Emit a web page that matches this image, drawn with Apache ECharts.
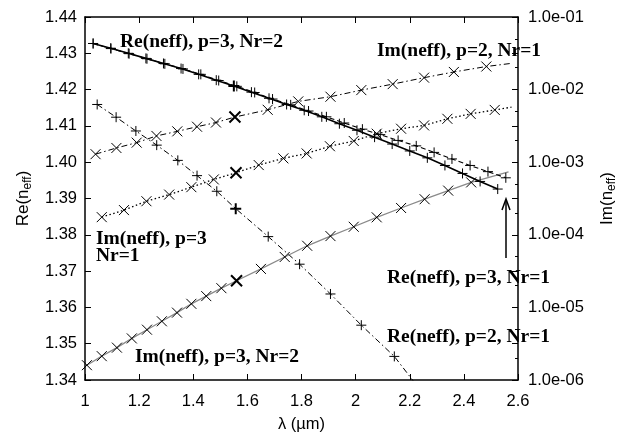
<!DOCTYPE html>
<html><head><meta charset="utf-8">
<script src="https://cdn.jsdelivr.net/npm/echarts@6/dist/echarts.min.js"></script>
<style>html,body{margin:0;padding:0;background:#fff}#c{width:626px;height:438px}</style>
</head><body><div id="c"></div>
<script>
// ---- axis definitions ----
const xMin = 1, xMax = 2.6, xStep = 0.2;
const reMin = 1.34, reMax = 1.44, reStep = 0.01;
const imMin = 1e-6, imMax = 1e-1;
const imMinorTicks = [2e-6,5e-6,2e-5,5e-5,2e-4,5e-4,2e-3,5e-3,2e-2,5e-2];
const boldLambda = 1.55;

// ---- Re(neff), p=3, Nr=2 (solid, +) ----
const lamReP3N2 = [1.03,1.095,1.16,1.225,1.29,1.355,1.42,1.485,1.55,1.615,1.68,1.745,1.81,1.875,1.94,2.005,2.07,2.135,2.2,2.265,2.33,2.395,2.46,2.525];
const reP3N2 = [1.4327,1.4314,1.4300,1.4286,1.4272,1.4258,1.4242,1.4226,1.4210,1.4193,1.4176,1.4159,1.4143,1.4125,1.4106,1.4088,1.4069,1.4050,1.4031,1.4012,1.3991,1.3969,1.3947,1.3926];

// ---- Re(neff), p=3, Nr=1 (dashed, +) ----
const lamReP3N1 = [1.03,1.096,1.163,1.229,1.295,1.362,1.428,1.494,1.561,1.627,1.693,1.76,1.826,1.892,1.958,2.025,2.091,2.157,2.224,2.29,2.356,2.423,2.489,2.555];
const reP3N1 = [1.4327,1.4313,1.4299,1.4285,1.4271,1.4257,1.4242,1.4225,1.4209,1.4192,1.4174,1.4158,1.4141,1.4125,1.4108,1.4091,1.4076,1.4060,1.4045,1.4027,1.4009,1.3991,1.3974,1.3957];

// ---- Re(neff), p=2, Nr=1 (dash-dot, +) ----
const lamReP2N1 = [1.045,1.115,1.188,1.265,1.343,1.414,1.487,1.557,1.677,1.793,1.907,2.021,2.143,2.26];
const reP2N1 = [1.4159,1.4124,1.4086,1.4047,1.4005,1.3963,1.3920,1.3872,1.3795,1.3719,1.3637,1.3551,1.3465,1.3352];

// ---- Im(neff), p=2, Nr=1 (dash-dot, x) ----
const lamImP2N1 = [1.039,1.116,1.191,1.264,1.341,1.414,1.484,1.554,1.675,1.788,1.907,2.021,2.137,2.253,2.363,2.483,2.576];
const imP2N1 = [1.29e-3,1.57e-3,1.86e-3,2.30e-3,2.66e-3,3.08e-3,3.52e-3,4.19e-3,5.27e-3,6.88e-3,7.98e-3,9.84e-3,1.19e-2,1.46e-2,1.75e-2,2.08e-2,2.30e-2];

// ---- Im(neff), p=3, Nr=1 (dotted, x) ----
const lamImP3N1 = [1.062,1.144,1.227,1.311,1.393,1.476,1.558,1.642,1.733,1.819,1.905,1.993,2.078,2.168,2.253,2.339,2.425,2.514,2.576];
const imP3N1 = [1.75e-4,2.19e-4,2.90e-4,3.58e-4,4.53e-4,5.79e-4,7.15e-4,9.13e-4,1.13e-3,1.32e-3,1.66e-3,1.96e-3,2.47e-3,2.89e-3,3.21e-3,3.96e-3,4.63e-3,5.25e-3,5.73e-3];

// ---- Im(neff), p=3, Nr=2 (grey, x) ----
const lamImP3N2 = [1.007,1.062,1.118,1.173,1.229,1.284,1.340,1.393,1.448,1.504,1.560,1.650,1.738,1.821,1.907,1.993,2.078,2.168,2.255,2.342,2.427,2.565];
const imP3N2 = [1.60e-6,2.13e-6,2.79e-6,3.74e-6,4.93e-6,6.44e-6,8.47e-6,1.12e-5,1.43e-5,1.84e-5,2.33e-5,3.39e-5,4.95e-5,7.06e-5,9.60e-5,1.29e-4,1.74e-4,2.34e-4,3.09e-4,4.06e-4,5.27e-4,7.33e-4];

// ---- annotation texts ----
const notes = [
  {text:'Re(neff), p=3, Nr=2', x:120, y:42},
  {text:'Im(neff), p=2, Nr=1', x:377, y:51},
  {text:'Im(neff), p=3', x:96, y:239},
  {text:'Nr=1', x:96, y:256},
  {text:'Im(neff), p=3, Nr=2', x:135, y:357},
  {text:'Re(neff), p=3, Nr=1', x:387, y:278},
  {text:'Re(neff), p=2, Nr=1', x:387, y:337}
];

const PLUS = 'path://M0,5L10,5M5,0L5,10';
const CROSS = 'path://M0,0L10,10M0,10L10,0';
const SANS = '"Liberation Sans", Arial, Helvetica, sans-serif';
const SERIF = '"Liberation Serif", "Times New Roman", serif';

function build(xs, ys, lastNoMarker) {
  return xs.map((x, i) => {
    const item = {value: [x, ys[i]]};
    if (lastNoMarker && i === xs.length - 1) item.symbol = 'none';
    if (Math.abs(x - boldLambda) < 0.0105) {
      item.symbolSize = 11;
      item.itemStyle = {borderWidth: 2, borderColor: '#000'};
    }
    return item;
  });
}

function mk(xs, ys, yIdx, sym, lineStyle, lastNoMarker, z) {
  return {
    type: 'line', xAxisIndex: 0, yAxisIndex: yIdx,
    data: build(xs, ys, lastNoMarker),
    symbol: sym, symbolSize: 10,
    lineStyle: lineStyle,
    itemStyle: {color: '#000', borderColor: '#000', borderWidth: 1},
    emphasis: {disabled: true},
    clip: true, z: z || 2
  };
}

const chart = echarts.init(document.getElementById('c'), null, {renderer: 'canvas'});
const tickStyle = {color: '#000', width: 1};
const nameRich = {
  a: {color: '#000', fontFamily: SANS, fontSize: 17, lineHeight: 19, verticalAlign: 'top'},
  b: {color: '#000', fontFamily: SANS, fontSize: 12, lineHeight: 14, padding: [10,0,0,0], verticalAlign: 'bottom'}
};
const option = {
  animation: false,
  backgroundColor: '#fff',
  grid: {left: 85, right: 104, top: 17, bottom: 54},
  xAxis: [
    {type: 'value', min: xMin, max: xMax, interval: xStep, position: 'bottom',
     axisLine: {lineStyle: {color: '#000', width: 1.5}},
     axisTick: {inside: true, length: 6, lineStyle: tickStyle},
     axisLabel: {color: '#000', fontFamily: SANS, fontSize: 16.5, margin: 13},
     splitLine: {show: false},
     name: 'λ (µm)', nameLocation: 'middle', nameGap: 36,
     nameTextStyle: {color: '#000', fontFamily: SANS, fontSize: 16.5}},
    {type: 'value', min: xMin, max: xMax, interval: xStep, position: 'top',
     axisLine: {lineStyle: {color: '#000', width: 1.5}},
     axisTick: {inside: true, length: 6, lineStyle: tickStyle},
     axisLabel: {show: false}, splitLine: {show: false}}
  ],
  yAxis: [
    {type: 'value', min: reMin, max: reMax, interval: reStep, position: 'left',
     axisLine: {show: true, lineStyle: {color: '#000', width: 1.5}},
     axisTick: {show: true, inside: true, length: 6, lineStyle: tickStyle},
     axisLabel: {color: '#000', fontFamily: SANS, fontSize: 16.5, margin: 8,
                 formatter: v => v.toFixed(2)},
     splitLine: {show: false},
     name: '{a|Re(n}{b|eff}{a|)}', nameLocation: 'middle', nameGap: 49, nameRotate: 90,
     nameTextStyle: {rich: nameRich}},
    {type: 'log', logBase: 10, min: imMin, max: imMax, position: 'right',
     axisLine: {show: true, lineStyle: {color: '#000', width: 1.5}},
     axisTick: {show: true, inside: true, length: 6, lineStyle: tickStyle},
     axisLabel: {color: '#000', fontFamily: SANS, fontSize: 16.5, margin: 10,
                 formatter: v => Number(v).toExponential(1).replace(/e([+-])(\d)$/, 'e$10$2')},
     splitLine: {show: false},
     name: '{a|Im(n}{b|eff}{a|)}', nameLocation: 'middle', nameGap: 81, nameRotate: 90,
     nameTextStyle: {rich: nameRich}},
    {type: 'value', min: reMin, max: reMax, interval: reStep, position: 'right',
     axisLine: {show: false},
     axisTick: {show: true, inside: true, length: 6, lineStyle: tickStyle},
     axisLabel: {show: false}, splitLine: {show: false}},
    {type: 'log', logBase: 10, min: imMin, max: imMax, position: 'right',
     axisLine: {show: false},
     axisTick: {show: true, inside: true, length: 3, lineStyle: tickStyle, customValues: imMinorTicks},
     axisLabel: {show: false}, splitLine: {show: false}}
  ],
  series: [
    mk(lamReP3N2, reP3N2, 0, PLUS, {color: '#000', width: 1.6, type: 'solid'}, false, 4),
    mk(lamReP3N1, reP3N1, 0, PLUS, {color: '#000', width: 1.1, type: [5, 3]}, false, 3),
    mk(lamReP2N1, reP2N1, 0, PLUS, {color: '#000', width: 1, type: [6, 3, 1.5, 3]}, true),
    mk(lamImP2N1, imP2N1, 1, CROSS, {color: '#000', width: 1, type: [6, 3, 1.5, 3]}, true),
    mk(lamImP3N1, imP3N1, 1, CROSS, {color: '#000', width: 1.3, type: [1.5, 2.5]}, true),
    mk(lamImP3N2, imP3N2, 1, CROSS, {color: '#8a8a8a', width: 1.3, type: 'solid'}, true)
  ],
  graphic: notes.map(n => ({
    type: 'text', x: n.x, y: n.y, z: 100,
    style: {text: n.text, fill: '#000', font: 'bold 19.5px ' + SERIF, align: 'left', verticalAlign: 'middle'}
  })).concat([
    {type: 'line', z: 100, shape: {x1: 506, y1: 258, x2: 506, y2: 200}, style: {stroke: '#000', lineWidth: 1.5}},
    {type: 'polyline', z: 100, shape: {points: [[502, 210], [506, 199], [510, 210]]}, style: {stroke: '#000', lineWidth: 1.5, fill: null}}
  ])
};
chart.setOption(option);
</script>
</body></html>
